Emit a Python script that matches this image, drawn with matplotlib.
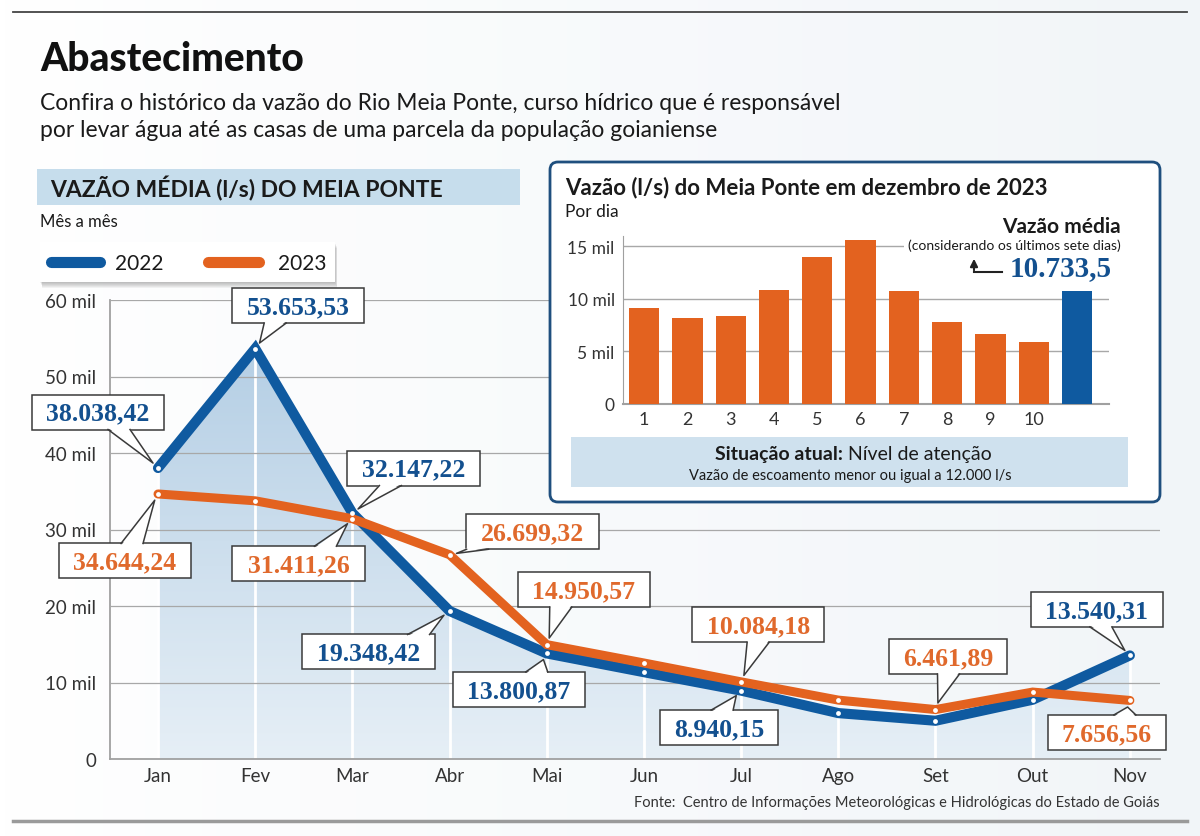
import numpy as np
import matplotlib.pyplot as plt
from matplotlib.patches import Rectangle, FancyBboxPatch, Polygon, FancyArrowPatch
from matplotlib.lines import Line2D
from matplotlib.transforms import Affine2D
from matplotlib.colors import LinearSegmentedColormap

plt.rcParams['font.family'] = ['Lato', 'DejaVu Sans']

# monthly mean flow (l/s)
months = ['Jan', 'Fev', 'Mar', 'Abr', 'Mai', 'Jun', 'Jul', 'Ago', 'Set', 'Out', 'Nov']
vazao_2022 = [38038.42, 53653.53, 32147.22, 19348.42, 13800.87, 11350, 8940.15, 6000, 5000, 7750, 13540.31]
vazao_2023 = [34644.24, 33750, 31411.26, 26699.32, 14950.57, 12550, 10084.18, 7700, 6461.89, 8750, 7656.56]
y_ticks = [0, 10000, 20000, 30000, 40000, 50000, 60000]
y_labels = ['0', '10 mil', '20 mil', '30 mil', '40 mil', '50 mil', '60 mil']

# december 2023, per day
dias = [1, 2, 3, 4, 5, 6, 7, 8, 9, 10]
vazao_dez = [9100, 8180, 8400, 10810, 13950, 15600, 10750, 7740, 6660, 5840]
vazao_media = 10733.5
dez_ticks = [0, 5000, 10000, 15000]
dez_labels = ['0', '5 mil', '10 mil', '15 mil']

AZUL = '#0f5aa0'
LARANJA = '#e3621f'
AZUL_TXT = '#13508f'
LARANJA_TXT = '#e0692c'
CINZA = '#a0a0a0'
SERIF = ['Liberation Serif', 'DejaVu Serif']

W, H = 1200, 837
fig = plt.figure(figsize=(W / 100, H / 100), dpi=100)
fig.patch.set_facecolor('white')
PX = Affine2D().scale(1, -1).translate(0, H)  # image pixels, y down


def box_ax(x0, y0, x1, y1):
    return [x0 / W, 1 - y1 / H, (x1 - x0) / W, (y1 - y0) / H]


def txt(x, y, s, **kw):
    kw.setdefault('va', 'center')
    kw.setdefault('color', '#1a1a1a')
    return fig.text(x, y, s, transform=PX, **kw)


def line(xs, ys, **kw):
    fig.add_artist(Line2D(xs, ys, transform=PX, **kw))


def fmt(v, dec=2):
    s = f'{v:,.{dec}f}'
    return s.replace(',', 'X').replace('.', ',').replace('X', '.')


# faint background shading
bg = fig.add_axes([0, 0, 1, 1], zorder=-5)
bg.axis('off')
shade = LinearSegmentedColormap.from_list('bg', ['#ffffff', '#eef3f7'])
bg.imshow(np.linspace(0, 1, 256).reshape(1, -1), extent=[0, 1, 0, 1], aspect='auto',
          cmap=shade, alpha=0.8)
bg.set_xlim(0, 1)
bg.set_ylim(0, 1)

# rules, titles
line([13, 1187], [13, 13], color='#444444', lw=1.3)
line([13, 1187], [822, 822], color='#9a9a9a', lw=2.5)
txt(40, 60, 'Abastecimento', fontsize=28, fontweight='black', color='#111111')
txt(40, 104, 'Confira o histórico da vazão do Rio Meia Ponte, curso hídrico que é responsável', fontsize=16.5)
txt(40, 131, 'por levar água até as casas de uma parcela da população goianiense', fontsize=16.5)

fig.add_artist(Rectangle((37, 170), 483, 36, transform=PX, fc='#c6ddec', ec='none'))
txt(50, 189, 'VAZÃO MÉDIA (l/s) DO MEIA PONTE', fontsize=16.5, fontweight='bold')
txt(40, 222, 'Mês a mês', fontsize=12)

# legend box with a soft shadow
for k in range(1, 7):
    fig.add_artist(Rectangle((40 + k * 0.4, 243 + k), 295, 40, transform=PX,
                             fc='#555555', ec='none', alpha=0.07, zorder=2))
fig.add_artist(Rectangle((40, 243), 295, 40, transform=PX, fc='white', ec='none', zorder=3))
line([51, 100], [263, 263], color=AZUL, lw=8, solid_capstyle='round', zorder=4)
txt(115, 264, '2022', fontsize=15, zorder=4)
line([208, 259], [263, 263], color=LARANJA, lw=8, solid_capstyle='round', zorder=4)
txt(278, 264, '2023', fontsize=15, zorder=4)

# main chart
ax = fig.add_axes(box_ax(110, 301, 1160, 760))
ax.set_facecolor('none')
x = np.arange(len(months))

verts = [(0, 0)] + list(zip(x, vazao_2022)) + [(x[-1], 0)]
area = Polygon(verts, closed=True, fc='none', ec='none', transform=ax.transData)
ax.add_patch(area)
cmap = LinearSegmentedColormap.from_list('fundo', ['#e6eff6', '#b5cfe5'])
grad = np.linspace(0, 1, 256).reshape(-1, 1)
im = ax.imshow(grad, extent=[0, x[-1], 0, max(vazao_2022)], origin='lower',
               aspect='auto', cmap=cmap, zorder=1)
im.set_clip_path(area)
ax.vlines(x, 0, vazao_2022, color='white', lw=2, zorder=1.5)

ax.plot(x, vazao_2022, color=AZUL, lw=7.3, solid_capstyle='round', solid_joinstyle='miter', zorder=3)
ax.plot(x, vazao_2023, color=LARANJA, lw=6.5, solid_capstyle='round', solid_joinstyle='miter', zorder=4)
ax.scatter(x, vazao_2022, s=12, color='white', zorder=5, linewidths=0)
ax.scatter(x, vazao_2023, s=12, color='white', zorder=5, linewidths=0)

ax.set_xlim(-0.494, 10.31)
ax.set_ylim(0, 60000)
ax.set_yticks(y_ticks, y_labels)
ax.set_xticks(x, months)
ax.tick_params(length=0, labelsize=13.5, colors='#333333')
ax.tick_params(axis='y', pad=10)
ax.tick_params(axis='x', pad=6)
ax.set_axisbelow(False)
ax.yaxis.grid(True, color='#a8a8a8', lw=0.9)
for s in ['top', 'right']:
    ax.spines[s].set_visible(False)
for s in ['left', 'bottom']:
    ax.spines[s].set_color(CINZA)
    ax.spines[s].set_linewidth(1.3)
    ax.spines[s].set_zorder(2)


def callout(i, val, dx, dy, base, color):
    px, py = PX.inverted().transform(ax.transData.transform((i, val)))
    s = fmt(val)
    w, h = 14.5 * len(s) + 2, 35
    cx, cy = px + dx, py + dy
    fig.add_artist(Rectangle((cx - w / 2, cy - h / 2), w, h, transform=PX,
                             fc='white', ec='#3a3a3a', lw=1.1, zorder=6))
    yb = cy + h / 2 if dy < 0 else cy - h / 2
    bx = cx + base
    vx, vy = bx - px, yb - py
    d = np.hypot(vx, vy)
    tx, ty = px + vx / d * 7, py + vy / d * 7
    inset = -1.5 if dy < 0 else 1.5
    fig.add_artist(Polygon([(bx - 10.5, yb + inset), (bx + 10.5, yb + inset), (tx, ty)],
                           closed=True, transform=PX, fc='white', ec='none', zorder=7))
    line([bx - 11, tx, bx + 11], [yb, ty, yb], color='#3a3a3a', lw=1.1, zorder=8)
    txt(cx, cy + 1, s, ha='center', color=color, fontsize=18.5, fontweight='bold',
        family=SERIF, zorder=9)


# box offsets (dx, dy, pointer base) in pixels
labels_2022 = {0: (-60, -56, 21), 1: (43, -43, -23), 2: (61, -45, -23), 3: (-81, 41, 50),
               4: (-28, 36, 18), 6: (-22, 37, 3), 10: (-33, -46, 4)}
labels_2023 = {0: (-33, 67, 7), 2: (-54, 45, 27), 3: (83, -23, -55), 4: (37, -55, -23),
               6: (17, -57, 0), 8: (13, -53, 0), 10: (-23, 32, 18)}
for i, (dx, dy, b) in labels_2022.items():
    callout(i, vazao_2022[i], dx, dy, b, AZUL_TXT)
for i, (dx, dy, b) in labels_2023.items():
    callout(i, vazao_2023[i], dx, dy, b, LARANJA_TXT)

# inset: december 2023
fig.add_artist(FancyBboxPatch((550, 163), 610, 340, boxstyle='round,pad=0,rounding_size=8',
                              transform=PX, fc='white', ec='#1f4f7e', lw=2, zorder=10))
txt(565, 188, 'Vazão (l/s) do Meia Ponte em dezembro de 2023', fontsize=16,
    fontweight='bold', zorder=12)
txt(565, 212, 'Por dia', fontsize=12.5, zorder=12)

ax2 = fig.add_axes(box_ax(623, 236.5, 1109, 405))
ax2.set_zorder(11)
ax2.set_facecolor('none')
ax2.bar(dias, vazao_dez, width=0.7, color=LARANJA, zorder=3)
ax2.bar([len(dias) + 1], [vazao_media], width=0.7, color=AZUL, zorder=3)
ax2.set_xlim(0.513, 11.74)
ax2.set_ylim(0, 16000)
ax2.set_yticks(dez_ticks, dez_labels)
ax2.set_xticks(dias, [str(d) for d in dias])
ax2.tick_params(length=0, labelsize=13, colors='#333333')
ax2.tick_params(axis='y', labelsize=12.5, pad=6)
ax2.tick_params(axis='x', pad=5)
ax2.yaxis.grid(True, color='#a8a8a8', lw=1)
ax2.set_axisbelow(True)
for s in ['top', 'right']:
    ax2.spines[s].set_visible(False)
ax2.spines['left'].set_color(CINZA)
ax2.spines['bottom'].set_color(CINZA)
ax2.spines['bottom'].set_linewidth(1.5)

txt(1121, 227, 'Vazão média', ha='right', fontsize=15, fontweight='bold', zorder=12)
txt(1121, 246, '(considerando os últimos sete dias)', ha='right', fontsize=10, zorder=12,
    bbox=dict(fc='white', ec='none', pad=3))
txt(1010, 269, fmt(vazao_media, 1), ha='left', fontsize=21, fontweight='bold',
    family=SERIF, color=AZUL_TXT, zorder=12)
line([1002, 974], [273, 273], color='#222222', lw=1.5, zorder=12)
fig.add_artist(FancyArrowPatch((974, 274), (974, 257), transform=PX, arrowstyle='-|>',
                               mutation_scale=11, color='#222222', lw=1.5, zorder=12))

fig.add_artist(Rectangle((571, 438), 557, 50, transform=PX, fc='#cfe1ee', ec='none', zorder=11))
txt(843, 455, 'Situação atual:', ha='right', fontsize=14, fontweight='bold', zorder=12)
txt(848, 455, 'Nível de atenção', ha='left', fontsize=14, zorder=12)
txt(850, 476, 'Vazão de escoamento menor ou igual a 12.000 l/s', ha='center',
    fontsize=10.5, zorder=12)

txt(1160, 803, 'Fonte:  Centro de Informações Meteorológicas e Hidrológicas do Estado de Goiás',
    ha='right', fontsize=10.5, color='#333333')

fig.savefig('out.png', dpi=100)
